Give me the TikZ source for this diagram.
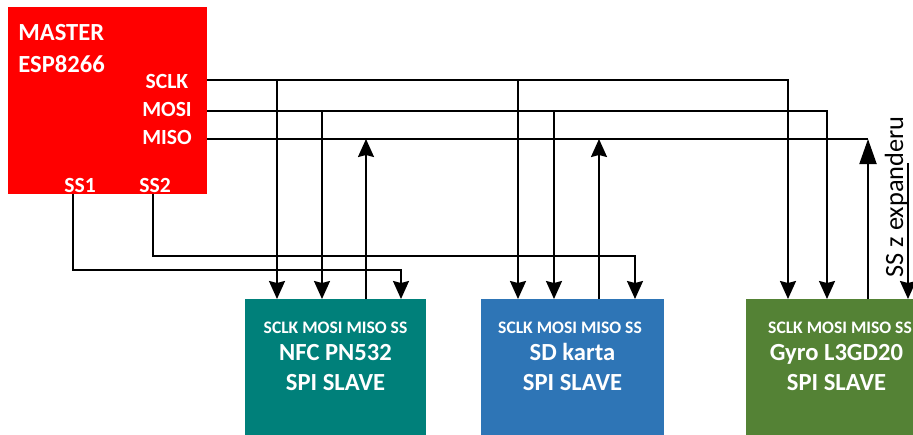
\documentclass[tikz,border=0pt]{standalone}
\usepackage{fontspec}
\setmainfont{Carlito}
\usetikzlibrary{arrows.meta,positioning}
\definecolor{masterred}{RGB}{255,0,0}
\definecolor{nfcteal}{RGB}{0,128,122}
\definecolor{sdblue}{RGB}{46,117,182}
\definecolor{gyrogreen}{RGB}{84,130,53}
\begin{document}
\begin{tikzpicture}[x=0.02cm,y=-0.02cm,
    sig/.style={line width=1.1pt},
    tip/.style={sig,-{Stealth[length=0.36cm,width=0.32cm,inset=0.04cm]}},
    bigtip/.style={sig,-{Triangle[length=0.5cm,width=0.34cm]}},
    chip/.style={inner sep=0pt,anchor=north west,minimum height=2.74cm,minimum width=3.62cm},
    big/.style={text=white,inner sep=0pt,font=\fontsize{14}{16}\selectfont\bfseries},
    pin/.style={text=white,inner sep=0pt,anchor=base,font=\fontsize{12.3}{14}\selectfont\bfseries},
    pinrow/.style={text=white,inner sep=0pt,anchor=base,font=\fontsize{10}{12}\selectfont\bfseries}]
  \useasboundingbox (0,0) rectangle (913,434);
  \clip (0,0) rectangle (913,434);

  \node[chip,fill=masterred,minimum width=3.98cm,minimum height=3.74cm] (master) at (8,7) {};
  \node[chip,fill=nfcteal] (nfc) at (245,299) {};
  \node[chip,fill=sdblue,minimum width=3.66cm] (sd) at (481,299) {};
  \node[chip,fill=gyrogreen] (gyro) at (746,299) {};

  \node[big,anchor=base west] (mtitle) at (18,40) {MASTER};
  \node[big,anchor=base west] (mchip) at (18,72) {ESP8266};
  \node[pin] (msclk) at (167,88) {SCLK};
  \node[pin] (mmosi) at (167,116) {MOSI};
  \node[pin] (mmiso) at (167,144) {MISO};
  \node[pin] (mss1) at (80,192) {SS1};
  \node[pin] (mss2) at (155,192) {SS2};

  \node[pinrow] (nfcpins) at (335.5,333) {SCLK MOSI MISO SS};
  \node[big,anchor=base] (nfcname) at (335.5,360) {NFC PN532};
  \node[big,anchor=base] (nfcrole) at (335.5,390) {SPI SLAVE};
  \node[pinrow] (sdpins) at (570,333) {SCLK MOSI MISO SS};
  \node[big,anchor=base] (sdname) at (572.5,360) {SD karta};
  \node[big,anchor=base] (sdrole) at (572.5,390) {SPI SLAVE};
  \node[pinrow] (gyropins) at (840,333) {SCLK MOSI MISO SS};
  \node[big,anchor=base] (gyroname) at (836.5,360) {Gyro L3GD20};
  \node[big,anchor=base] (gyrorole) at (836.5,390) {SPI SLAVE};
  \node[rotate=90,inner sep=0pt,font=\fontsize{15}{17}\selectfont] (expander) at (896,197) {SS z expanderu};

  \coordinate (sclk) at (207,80);
  \coordinate (mosi) at (207,111);
  \coordinate (miso) at (207,139);
  \coordinate (ss1) at (73,194);
  \coordinate (ss2) at (153,194);
  \coordinate (ss1bend) at (401,270);
  \coordinate (ss2bend) at (635,256);
  \coordinate (expss) at (908,163);

  \coordinate (nfc-sclk) at (277,299);
  \coordinate (nfc-mosi) at (322,299);
  \coordinate (nfc-miso) at (366,299);
  \coordinate (nfc-ss) at (401,299);
  \coordinate (sd-sclk) at (518,299);
  \coordinate (sd-mosi) at (554,299);
  \coordinate (sd-miso) at (599,299);
  \coordinate (sd-ss) at (635,299);
  \coordinate (gyro-sclk) at (788,299);
  \coordinate (gyro-mosi) at (827,299);
  \coordinate (gyro-miso) at (868,299);
  \coordinate (gyro-ss) at (908,299);

  \draw[tip] (sclk) -| (gyro-sclk);
  \draw[tip] (mosi) -| (gyro-mosi);
  \draw[sig] (miso) -- (gyro-miso |- miso);
  \draw[tip] (nfc-sclk |- sclk) -- (nfc-sclk);
  \draw[tip] (nfc-mosi |- mosi) -- (nfc-mosi);
  \draw[tip] (nfc-miso) -- (nfc-miso |- miso);
  \draw[tip] (sd-sclk |- sclk) -- (sd-sclk);
  \draw[tip] (sd-mosi |- mosi) -- (sd-mosi);
  \draw[tip] (sd-miso) -- (sd-miso |- miso);
  \draw[bigtip] (gyro-miso) -- (gyro-miso |- miso);
  \draw[tip] (ss1) |- (ss1bend) -- (nfc-ss);
  \draw[tip] (ss2) |- (ss2bend) -- (sd-ss);
  \draw[tip] (expss) -- (gyro-ss);
\end{tikzpicture}
\end{document}
